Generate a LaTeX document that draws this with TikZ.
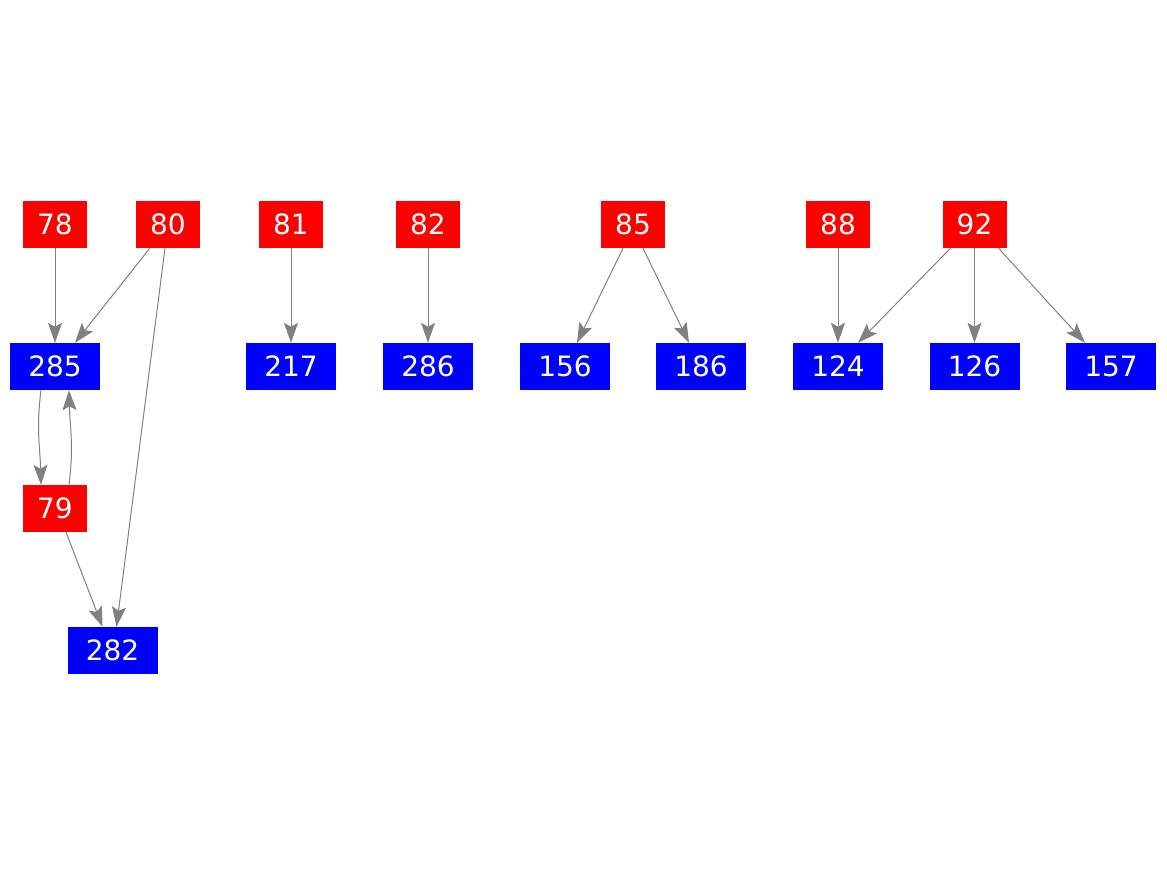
\documentclass[tikz,border=0pt]{standalone}
\usepackage{fontspec}
\setmainfont{DejaVu Sans}
\usetikzlibrary{arrows.meta}
\begin{document}
\begin{tikzpicture}[x=1pt,y=-1pt,
  rednode/.style={fill=red,text=white,minimum width=64pt,minimum height=47pt,inner sep=0pt,font=\fontsize{28}{30}\selectfont},
  bluenode/.style={fill=blue,text=white,minimum width=90pt,minimum height=47pt,inner sep=0pt,font=\fontsize{28}{30}\selectfont},
  edge/.style={draw=gray,line width=1pt,-{Stealth[length=20pt,width=14pt,inset=4pt]}}]
\useasboundingbox (0,0) rectangle (1167,875);
\node[rednode] (n78) at (55,224.5) {78};
\node[rednode] (n80) at (168,224.5) {80};
\node[rednode] (n81) at (291,224.5) {81};
\node[rednode] (n82) at (428,224.5) {82};
\node[rednode] (n85) at (633,224.5) {85};
\node[rednode] (n88) at (838,224.5) {88};
\node[rednode] (n92) at (974.5,224.5) {92};
\node[bluenode] (n285) at (55,366.5) {285};
\node[bluenode] (n217) at (291,366.5) {217};
\node[bluenode] (n286) at (428,366.5) {286};
\node[bluenode] (n156) at (565,366.5) {156};
\node[bluenode] (n186) at (701,366.5) {186};
\node[bluenode] (n124) at (838,366.5) {124};
\node[bluenode] (n126) at (974.5,366.5) {126};
\node[bluenode] (n157) at (1111,366.5) {157};
\node[rednode] (n79) at (55,508.5) {79};
\node[bluenode] (n282) at (112.5,650.5) {282};
\draw[edge] (n78) -- (n285);
\draw[edge] (n80.south west) ++(14,0) -- ([xshift=20pt]n285.north);
\draw[edge] ([xshift=-3pt]n80.south) -- ([xshift=4pt]n282.north);
\draw[edge] (n81) -- (n217);
\draw[edge] (n82) -- (n286);
\draw[edge] ([xshift=-10pt]n85.south) -- ([xshift=12pt]n156.north);
\draw[edge] ([xshift=10pt]n85.south) -- ([xshift=-12pt]n186.north);
\draw[edge] (n88) -- (n124);
\draw[edge] ([xshift=-24pt]n92.south) -- ([xshift=20pt]n124.north);
\draw[edge] (n92) -- (n126);
\draw[edge] ([xshift=24pt]n92.south) -- ([xshift=-26pt]n157.north);
\draw[edge] ([xshift=-14pt]n285.south) .. controls +(-5,40) and +(-1,-40) .. ([xshift=-14pt]n79.north);
\draw[edge] ([xshift=14pt]n79.north) .. controls +(5,-40) and +(1,40) .. ([xshift=14pt]n285.south);
\draw[edge] ([xshift=11pt]n79.south) -- ([xshift=-10pt]n282.north);
\end{tikzpicture}
\end{document}
